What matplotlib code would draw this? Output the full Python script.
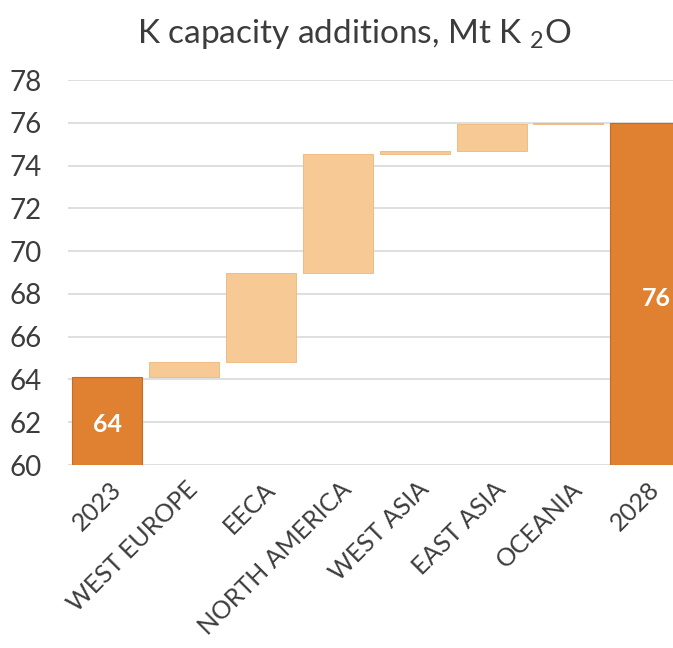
import matplotlib
matplotlib.use("Agg")
import matplotlib.pyplot as plt
from matplotlib.transforms import ScaledTranslation

# waterfall data (Mt K2O)
categories = ["2023", "WEST EUROPE", "EECA", "NORTH AMERICA", "WEST ASIA",
              "EAST ASIA", "OCEANIA", "2028"]
start_value = 64.1
additions = [0.7, 4.2, 5.55, 0.15, 1.25, 0.05]
end_value = 76.0
total_labels = ["64", "76"]

DARK = "#E08131"
LIGHT = "#F6C995"
TXT = "#3c3c3c"

plt.rcParams["font.family"] = ["Lato", "DejaVu Sans"]
plt.rcParams["mathtext.fontset"] = "custom"
plt.rcParams["mathtext.rm"] = "Lato"

fig = plt.figure(figsize=(6.73, 6.48), dpi=100)
ax = fig.add_axes([0.101, 0.2824, 0.899, 0.5941])

width = 0.91
# start bar
ax.bar(0, start_value - 60, bottom=60, width=width, color=DARK,
       edgecolor="#C96A22", linewidth=0.8, zorder=3)
# increments
level = start_value
for i, inc in enumerate(additions):
    ax.bar(i + 1, inc, bottom=level, width=width, color=LIGHT,
           edgecolor="#EDB77C", linewidth=0.6, zorder=3)
    level += inc
# end bar
n = len(categories) - 1
ax.bar(n, end_value - 60, bottom=60, width=width, color=DARK,
       edgecolor="#C96A22", linewidth=0.8, zorder=3)

ax.text(0, 61.9, total_labels[0], ha="center", va="center", color="white",
        fontsize=18, fontweight="bold", zorder=4)
ax.text(n + 0.15, 67.8, total_labels[1], ha="center", va="center", color="white",
        fontsize=18, fontweight="bold", zorder=4)

ax.set_ylim(60, 78)
ax.set_xlim(-0.51, 7.36)
ax.set_yticks(range(60, 79, 2))
ax.yaxis.grid(True, color="#D9D9D9", linewidth=1.2, zorder=0)
ax.tick_params(axis="y", length=0, labelsize=20, labelcolor=TXT, pad=19)
ax.tick_params(axis="x", length=0, labelsize=18, labelcolor=TXT, pad=9)
ax.set_xticks(range(len(categories)))
ax.set_xticklabels(categories, rotation=45, ha="right", rotation_mode="anchor")
shift = ScaledTranslation(2 / 100, 0, fig.dpi_scale_trans)
for lab in ax.get_xticklabels():
    lab.set_transform(lab.get_transform() + shift)
for s in ax.spines.values():
    s.set_visible(False)

fig.text(0.527, 0.934, "K capacity additions, Mt K $_{2}$O", ha="center",
         va="baseline", fontsize=24, color=TXT)

fig.savefig("out.png", dpi=100)
